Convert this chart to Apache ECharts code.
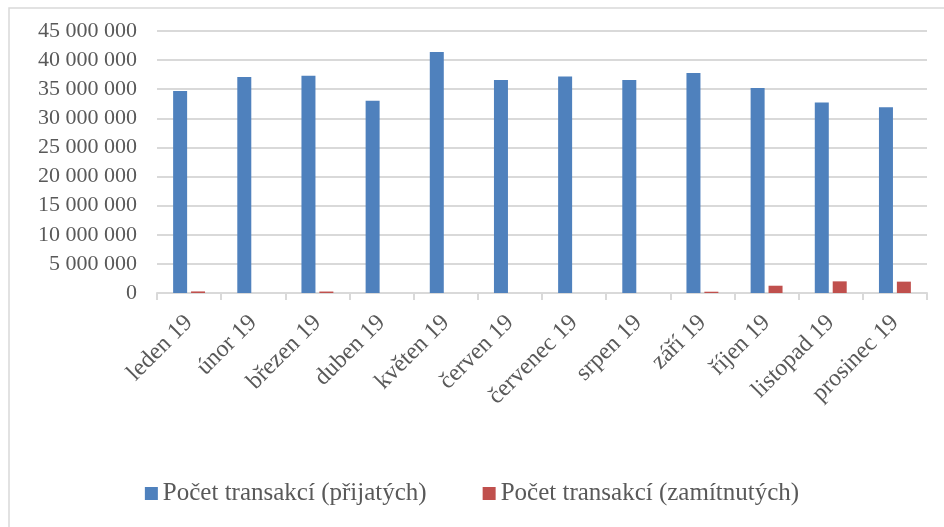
<!DOCTYPE html>
<html>
<head>
<meta charset="utf-8">
<script src="https://cdn.jsdelivr.net/npm/echarts@6/dist/echarts.min.js"></script>
<style>
  html, body { margin: 0; padding: 0; background: #fff; }
  #chart { width: 944px; height: 527px; }
</style>
</head>
<body>
<div id="chart"></div>
<script>
// months
var months = ['leden 19', 'únor 19', 'březen 19', 'duben 19', 'květen 19', 'červen 19',
  'červenec 19', 'srpen 19', 'září 19', 'říjen 19', 'listopad 19', 'prosinec 19'];
// accepted transactions
var prijate = [34700000, 37100000, 37300000, 33000000, 41400000, 36600000,
  37200000, 36600000, 37800000, 35200000, 32700000, 31900000];
// rejected transactions
var zamitnute = [270000, 0, 250000, 0, 0, 0, 0, 0, 220000, 1250000, 2000000, 1950000];
var seriesNames = ['Počet transakcí (přijatých)', 'Počet transakcí (zamítnutých)'];

var font = '"Liberation Serif", serif';
var chart = echarts.init(document.getElementById('chart'));

function fmt(v) {
  return String(v).replace(/\B(?=(\d{3})+(?!\d))/g, ' ');
}

var option = {
  animation: false,
  textStyle: { fontFamily: font },
  graphic: [{
    type: 'rect',
    shape: { x: 9, y: 8, width: 980, height: 580 },
    style: { fill: 'none', stroke: '#D9D9D9', lineWidth: 1.5 },
    silent: true
  }],
  grid: { left: 157, right: 17, top: 31, bottom: 234 },
  legend: {
    bottom: 16,
    left: 'center',
    itemWidth: 13,
    itemHeight: 13,
    itemGap: 56,
    icon: 'rect',
    textStyle: { fontFamily: font, fontSize: 25, color: '#595959' },
    data: seriesNames
  },
  xAxis: {
    type: 'category',
    data: months,
    axisLine: { lineStyle: { color: '#D9D9D9', width: 2 } },
    axisTick: { show: true, length: 7, lineStyle: { color: '#D9D9D9', width: 2 } },
    axisLabel: {
      rotate: 45,
      margin: 26,
      interval: 0,
      fontFamily: font,
      fontSize: 24,
      color: '#595959'
    }
  },
  yAxis: {
    type: 'value',
    min: 0,
    max: 45000000,
    interval: 5000000,
    axisLine: { show: false },
    axisTick: { show: false },
    splitLine: { lineStyle: { color: '#D9D9D9', width: 2 } },
    axisLabel: {
      margin: 20,
      fontFamily: font,
      fontSize: 22,
      color: '#595959',
      formatter: fmt
    }
  },
  series: [
    {
      name: seriesNames[0],
      type: 'bar',
      data: prijate,
      barWidth: 14,
      barGap: '28%',
      itemStyle: { color: '#4F81BD' }
    },
    {
      name: seriesNames[1],
      type: 'bar',
      data: zamitnute,
      barWidth: 14,
      barGap: '28%',
      itemStyle: { color: '#C0504D' }
    }
  ]
};

chart.setOption(option);
</script>
</body>
</html>
